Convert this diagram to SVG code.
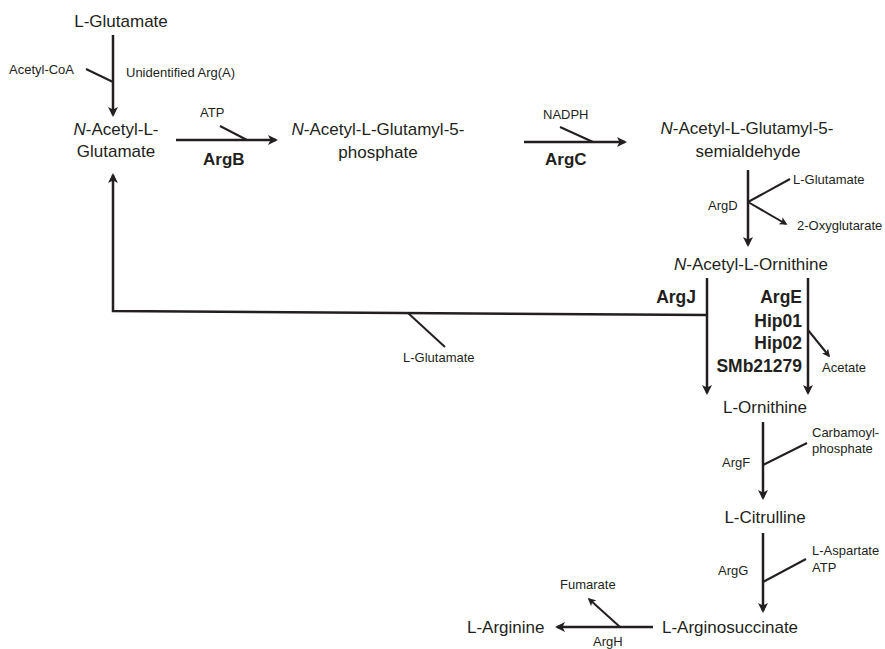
<svg xmlns="http://www.w3.org/2000/svg" width="885" height="649" viewBox="0 0 885 649">
<style>
text{font-family:"Liberation Sans",Arial,sans-serif;fill:#231f20}
.m{font-size:17px}
.s{font-size:13px}
.b{font-size:17px;font-weight:bold}
.bb{font-size:17.5px;font-weight:bold}
.c{text-anchor:middle}
.e{text-anchor:end}
.ln{stroke:#231f20;stroke-width:2.5;fill:none}
.br{stroke:#231f20;stroke-width:2;fill:none}
.a{marker-end:url(#ah)}
.as{marker-end:url(#ahs)}
</style>
<defs>
<marker id="ah" viewBox="0 0 10 10" markerWidth="10" markerHeight="10" refX="8" refY="5" orient="auto" markerUnits="userSpaceOnUse">
<path d="M0,0 L10,5 L0,10 L2.5,5 Z" fill="#231f20"/>
</marker>
<marker id="ahs" viewBox="0 0 10 10" markerWidth="8" markerHeight="8" refX="8" refY="5" orient="auto" markerUnits="userSpaceOnUse">
<path d="M0,0 L10,5 L0,10 L2.5,5 Z" fill="#231f20"/>
</marker>
</defs>
<rect width="885" height="649" fill="#fff"/>

<g id="connectors">
<line class="ln a" x1="113" y1="35" x2="113" y2="115"/>
<line class="br" x1="86" y1="69" x2="113" y2="82"/>

<line class="ln a" x1="176" y1="140" x2="276" y2="140"/>
<line class="br" x1="220" y1="126" x2="247" y2="140"/>

<line class="ln a" x1="524" y1="142" x2="625" y2="142"/>
<line class="br" x1="560" y1="127" x2="593" y2="142"/>

<line class="ln a" x1="748" y1="170" x2="748" y2="245"/>
<line class="br" x1="748" y1="202" x2="790" y2="179"/>
<line class="br as" x1="748" y1="202" x2="786" y2="224"/>

<line class="ln a" x1="707" y1="278" x2="707" y2="393"/>
<polyline class="ln a" points="707,315 113,311 113,175"/>
<line class="br" x1="408" y1="313" x2="445" y2="347"/>

<line class="ln a" x1="808" y1="278" x2="808" y2="393"/>
<line class="br as" x1="808" y1="330" x2="829" y2="356"/>

<line class="ln a" x1="763" y1="422" x2="763" y2="498"/>
<line class="br" x1="763" y1="465" x2="807" y2="443"/>

<line class="ln a" x1="763" y1="533" x2="763" y2="611"/>
<line class="br" x1="763" y1="582" x2="806" y2="559"/>

<line class="ln a" x1="653" y1="627" x2="557" y2="627"/>
<line class="br as" x1="620" y1="627" x2="589" y2="599"/>
</g>

<g id="n_lglutamate">
<text class="m c" x="121" y="27">L-Glutamate</text>
</g>
<g id="n_nag">
<text class="m c" x="116" y="135"><tspan font-style="italic">N</tspan>-Acetyl-L-</text>
<text class="m c" x="116" y="157">Glutamate</text>
</g>
<g id="n_nagp">
<text class="m c" x="378" y="135"><tspan font-style="italic">N</tspan>-Acetyl-L-Glutamyl-5-</text>
<text class="m c" x="378" y="158">phosphate</text>
</g>
<g id="n_nags">
<text class="m c" x="747" y="134"><tspan font-style="italic">N</tspan>-Acetyl-L-Glutamyl-5-</text>
<text class="m c" x="748" y="157">semialdehyde</text>
</g>
<g id="n_nao">
<text class="m c" x="751" y="270"><tspan font-style="italic">N</tspan>-Acetyl-L-Ornithine</text>
</g>
<g id="n_orn">
<text class="m c" x="765" y="413">L-Ornithine</text>
</g>
<g id="n_cit">
<text class="m c" x="765" y="523">L-Citrulline</text>
</g>
<g id="n_argsucc">
<text class="m" x="662" y="633">L-Arginosuccinate</text>
</g>
<g id="n_arg">
<text class="m" x="467" y="633">L-Arginine</text>
</g>

<g id="labels">
<text class="s" x="9" y="74">Acetyl-CoA</text>
<text class="s" x="126" y="77">Unidentified Arg(A)</text>
<text class="s" x="200" y="117">ATP</text>
<text class="b" x="203" y="165">ArgB</text>
<text class="s" x="543" y="119">NADPH</text>
<text class="b" x="545" y="165">ArgC</text>
<text class="s" x="793" y="184">L-Glutamate</text>
<text class="s" x="797" y="230">2-Oxyglutarate</text>
<text class="s" x="708" y="210">ArgD</text>
<text class="bb e" x="696" y="303">ArgJ</text>
<text class="bb e" x="802" y="303">ArgE</text>
<text class="bb e" x="802" y="327">Hip01</text>
<text class="bb e" x="802" y="349">Hip02</text>
<text class="bb e" x="802" y="372">SMb21279</text>
<text class="s" x="403" y="362">L-Glutamate</text>
<text class="s" x="822" y="372">Acetate</text>
<text class="s" x="812" y="437">Carbamoyl-</text>
<text class="s" x="812" y="453">phosphate</text>
<text class="s" x="722" y="467">ArgF</text>
<text class="s" x="812" y="555">L-Aspartate</text>
<text class="s" x="812" y="572">ATP</text>
<text class="s" x="718" y="575">ArgG</text>
<text class="s" x="560" y="589">Fumarate</text>
<text class="s" x="593" y="646">ArgH</text>
</g>
</svg>
